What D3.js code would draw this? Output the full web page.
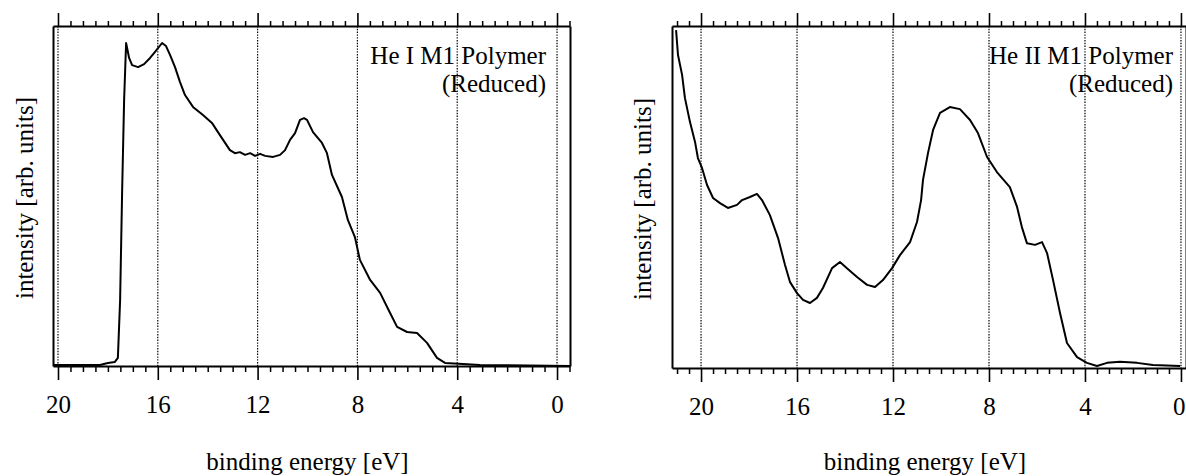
<!DOCTYPE html>
<html>
<head>
<meta charset="utf-8">
<script src="https://cdn.jsdelivr.net/npm/d3@7"></script>
<style>
  body { margin: 0; background: #fff; }
  svg { display: block; }
  text { font-family: "Liberation Serif", "Times New Roman", serif; fill: #000; }
  .axis path, .axis line { stroke: #000; }
</style>
</head>
<body>
<svg width="1186" height="476"></svg>
<script>
// He I spectrum: binding energy [eV] and intensity [arb. units]
var heIEnergy = [20.2, 18.32, 18.0, 17.72, 17.6, 17.51, 17.43, 17.35, 17.27, 17.15, 17.03, 16.79, 16.55,
    16.31, 16.11, 15.83, 15.67, 15.51, 15.31, 15.11, 14.91, 14.59, 14.19, 13.83, 13.51, 13.11, 12.91,
    12.71, 12.5, 12.3, 12.1, 11.9, 11.7, 11.38, 11.1, 10.9, 10.7, 10.5, 10.3, 10.14, 10.02, 9.78, 9.42,
    9.22, 9.02, 8.62, 8.38, 8.1, 7.9, 7.49, 7.09, 6.69, 6.41, 6.01, 5.61, 5.21, 4.81, 4.49, 3.77, 3.09, -0.52];
var heIIntensity = [0.3, 0.3, 0.9, 1.2, 2.4, 19.4, 51.2, 78.2, 95.0, 90.6, 88.5, 87.9, 88.8,
    90.6, 92.4, 95.0, 94.1, 91.5, 87.9, 83.5, 79.7, 76.2, 73.8, 71.5, 67.9, 63.5, 62.6,
    62.9, 62.1, 62.6, 61.8, 62.4, 61.8, 61.5, 62.1, 63.5, 66.5, 68.5, 72.4, 72.9, 72.4, 68.8, 65.6,
    62.6, 56.2, 49.7, 42.9, 37.9, 31.2, 25.3, 21.5, 15.6, 11.5, 10.0, 9.7, 6.8, 2.4, 0.9, 0.6, 0.3, 0];

// He II spectrum
var heIIEnergy = [21.04, 20.96, 20.79, 20.67, 20.46, 20.25, 20.13, 19.96, 19.75, 19.5, 19.21, 18.88,
    18.5, 18.29, 17.96, 17.67, 17.46, 17.13, 16.79, 16.5, 16.29, 16.0, 15.75, 15.46, 15.17, 14.92,
    14.54, 14.21, 13.92, 13.5, 13.08, 12.75, 12.42, 12.04, 11.71, 11.29, 11.0, 10.83, 10.75, 10.54,
    10.33, 10.04, 9.63, 9.21, 8.79, 8.46, 8.08, 7.67, 7.13, 6.83, 6.63, 6.42, 6.08, 5.79, 5.58, 5.33,
    5.04, 4.75, 4.33, 3.92, 3.5, 3.08, 2.54, 1.83, 1.17, 0.04];
var heIIIntensity = [98.8, 91.5, 85.7, 78.9, 71.9, 66.1, 61.4, 58.5, 53.5, 49.7, 48.2, 46.8,
    47.7, 49.1, 50.0, 50.9, 49.1, 44.7, 38.0, 30.1, 25.1, 21.9, 19.9, 19.0, 20.5, 23.4,
    29.2, 31.0, 29.2, 26.6, 24.3, 23.7, 25.7, 29.2, 33.0, 36.8, 42.7, 49.1, 55.0, 62.9,
    69.6, 74.6, 76.3, 75.7, 72.5, 68.7, 61.7, 57.3, 52.9, 47.1, 41.2, 36.5, 36.0, 36.8, 33.6, 25.7,
    16.1, 7.3, 3.2, 1.5, 0.6, 1.5, 1.8, 1.5, 0.9, 0.6];

var majorTicks = [20, 16, 12, 8, 4, 0];
var titleLines1 = ['He I M1 Polymer', '(Reduced)'];
var titleLines2 = ['He II M1 Polymer', '(Reduced)'];
var xLabel = 'binding energy [eV]';
var yLabel = 'intensity [arb. units]';

var svg = d3.select('svg');
var svgWidth = +svg.attr('width');

function drawPanel(p) {
    var x = d3.scaleLinear().domain(p.xDomain).range([p.left, p.right]);
    var y = d3.scaleLinear().domain([0, 100]).range([p.bottom, p.top]);

    var lo = Math.min(p.xDomain[0], p.xDomain[1]);
    var hi = Math.max(p.xDomain[0], p.xDomain[1]);
    var minorTicks = d3.range(-1, 22, 0.5).filter(function(v) {
        return v >= lo && v <= hi && majorTicks.indexOf(v) < 0;
    });

    var g = svg.append('g');

    // dotted grid lines at major ticks
    g.selectAll('.grid')
        .data(majorTicks)
        .enter()
        .append('line')
        .attr('class', 'grid')
        .attr('x1', function(d) { return x(d); })
        .attr('x2', function(d) { return x(d); })
        .attr('y1', p.top)
        .attr('y2', p.bottom)
        .attr('stroke', '#000')
        .attr('stroke-width', 1.2)
        .attr('stroke-dasharray', '1.4,1.4');

    // bottom axis: minor then major with labels
    g.append('g')
        .attr('class', 'axis')
        .attr('transform', 'translate(0,' + p.bottom + ')')
        .call(d3.axisBottom(x).tickValues(minorTicks).tickSize(6).tickSizeOuter(0).tickFormat(''))
        .call(function(a) { a.select('.domain').attr('stroke-width', 2); a.selectAll('line').attr('stroke-width', 1.5); });

    g.append('g')
        .attr('class', 'axis')
        .attr('transform', 'translate(0,' + p.bottom + ')')
        .call(d3.axisBottom(x).tickValues(majorTicks).tickSize(14).tickSizeOuter(0).tickPadding(15))
        .call(function(a) {
            a.select('.domain').remove();
            a.selectAll('line').attr('stroke-width', 1.6);
            a.selectAll('text')
                .style('font-size', '25px')
                .style('font-family', '"Liberation Serif", serif')
                .attr('text-anchor', function(d) {
                    // keep the label inside the page when the tick sits at the edge
                    return x(d) + 8 > svgWidth ? 'end' : 'middle';
                })
                .attr('x', function(d) { return x(d) + 8 > svgWidth ? svgWidth - 1 - x(d) : 0; });
        });

    // top axis
    g.append('g')
        .attr('class', 'axis')
        .attr('transform', 'translate(0,' + p.top + ')')
        .call(d3.axisTop(x).tickValues(minorTicks).tickSize(5).tickSizeOuter(0).tickFormat(''))
        .call(function(a) { a.select('.domain').attr('stroke-width', 2); a.selectAll('line').attr('stroke-width', 1.5); });

    g.append('g')
        .attr('class', 'axis')
        .attr('transform', 'translate(0,' + p.top + ')')
        .call(d3.axisTop(x).tickValues(majorTicks).tickSize(13).tickSizeOuter(0).tickFormat(''))
        .call(function(a) { a.select('.domain').remove(); a.selectAll('line').attr('stroke-width', 1.6); });

    // left / right frame
    g.append('g')
        .attr('class', 'axis')
        .attr('transform', 'translate(' + p.left + ',0)')
        .call(d3.axisLeft(y).tickValues([]).tickSizeOuter(0))
        .select('.domain').attr('stroke-width', 2);

    g.append('g')
        .attr('class', 'axis')
        .attr('transform', 'translate(' + p.right + ',0)')
        .call(d3.axisRight(y).tickValues([]).tickSizeOuter(0))
        .select('.domain').attr('stroke-width', 2);

    // spectrum
    var pts = p.energy.map(function(e, i) { return [e, p.intensity[i]]; });
    g.append('path')
        .datum(pts)
        .attr('fill', 'none')
        .attr('stroke', '#000')
        .attr('stroke-width', 2)
        .attr('stroke-linejoin', 'round')
        .attr('d', d3.line()
            .x(function(d) { return x(d[0]); })
            .y(function(d) { return y(d[1]); }));

    // title in the upper right
    g.selectAll('.title')
        .data(p.title)
        .enter()
        .append('text')
        .attr('class', 'title')
        .attr('x', p.titleX)
        .attr('y', function(d, i) { return 64 + i * 28; })
        .attr('text-anchor', 'end')
        .style('font-size', '25px')
        .text(function(d) { return d; });

    // axis titles
    g.append('text')
        .attr('x', (p.left + p.right) / 2 - 4)
        .attr('y', 470)
        .attr('text-anchor', 'middle')
        .style('font-size', '25px')
        .text(xLabel);

    g.append('text')
        .attr('transform', 'translate(' + p.yLabelX + ',' + ((p.top + p.bottom) / 2 + 2) + ') rotate(-90)')
        .attr('text-anchor', 'middle')
        .style('font-size', '25px')
        .text(yLabel);
}

drawPanel({
    left: 53, right: 570, top: 26, bottom: 366,
    xDomain: [20.2, -0.52],
    energy: heIEnergy, intensity: heIIntensity,
    title: titleLines1, titleX: 546, yLabelX: 33
});

drawPanel({
    left: 672, right: 1186, top: 26, bottom: 368,
    xDomain: [21.21, -0.21],
    energy: heIIEnergy, intensity: heIIIntensity,
    title: titleLines2, titleX: 1173, yLabelX: 651
});
</script>
</body>
</html>
